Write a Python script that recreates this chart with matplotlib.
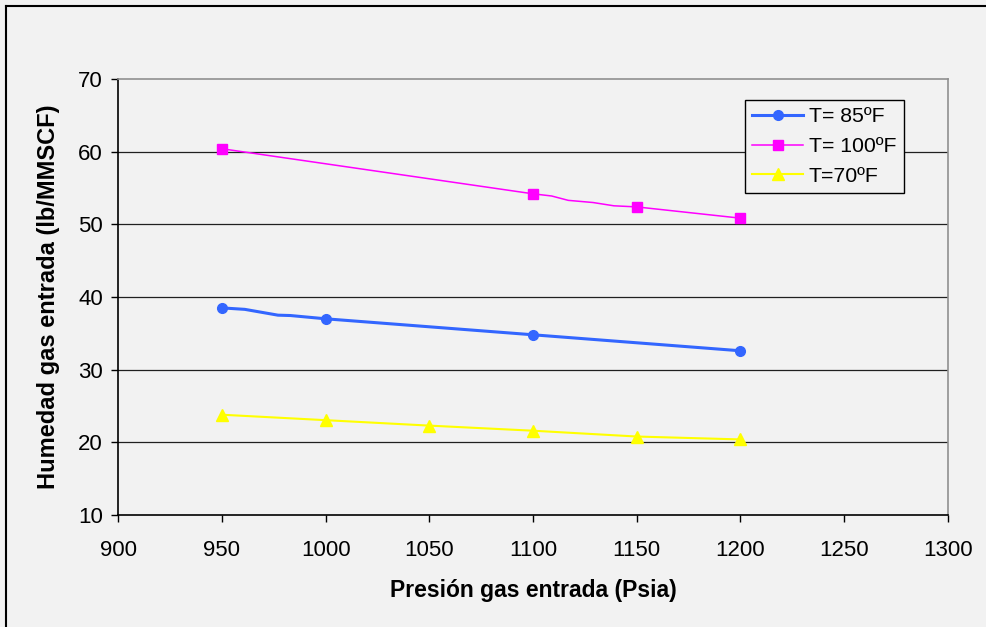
import matplotlib
matplotlib.use("Agg")
import matplotlib.pyplot as plt
from matplotlib.lines import Line2D

plt.rcParams['font.family'] = ['Liberation Sans', 'DejaVu Sans']

# pressure (Psia) where each temperature was sampled
pres_85 = [950, 1000, 1100, 1200]
hum_85 = [38.5, 37.0, 34.8, 32.6]
pres_100 = [950, 1100, 1150, 1200]
hum_100 = [60.4, 54.2, 52.4, 50.85]
pres_70 = [950, 1000, 1050, 1100, 1150, 1200]
hum_70 = [23.8, 23.05, 22.3, 21.6, 20.8, 20.4]

# the drawn curves bend slightly between samples
line_x_85 = [950, 961, 977, 983, 1000, 1100, 1200]
line_y_85 = [38.5, 38.3, 37.5, 37.45, 37.0, 34.8, 32.6]
line_x_100 = [950, 1100, 1109, 1117, 1129, 1139, 1150, 1200]
line_y_100 = [60.4, 54.2, 53.9, 53.3, 53.0, 52.55, 52.4, 50.85]

x_ticks = [900, 950, 1000, 1050, 1100, 1150, 1200, 1250, 1300]
y_ticks = [10, 20, 30, 40, 50, 60, 70]

bg = '#f2f2f2'
W, H = 986, 627
fig = plt.figure(figsize=(W / 100, H / 100), dpi=100, facecolor=bg)
ax = fig.add_axes([118.3 / W, 1 - 515 / H, (947.7 - 118.3) / W, (515 - 79) / H])
ax.set_facecolor(bg)

ax.set_xlim(900, 1300)
ax.set_ylim(10, 70)
ax.set_xticks(x_ticks)
ax.set_yticks(y_ticks)

for v in y_ticks[1:-1]:
    ax.axhline(v, color='#202020', lw=0.9, zorder=1)

blue, magenta, yellow = '#3366ff', '#ff00ff', '#ffff00'

ax.plot(line_x_85, line_y_85, color=blue, lw=2.2, zorder=3)
ax.plot(pres_85, hum_85, 'o', color=blue, ms=7, zorder=4)
ax.plot(line_x_100, line_y_100, color=magenta, lw=1.1, zorder=3)
ax.plot(pres_100, hum_100, 's', color=magenta, ms=7, zorder=4)
ax.plot(pres_70, hum_70, color=yellow, lw=1.5, zorder=3)
ax.plot(pres_70, hum_70, '^', color=yellow, ms=8.5, zorder=4)

handles = [
    Line2D([], [], color=blue, lw=2.2, marker='o', ms=7),
    Line2D([], [], color=magenta, lw=1.1, marker='s', ms=7),
    Line2D([], [], color=yellow, lw=1.5, marker='^', ms=8.5),
]
labels = ['T= 85ºF', 'T= 100ºF', 'T=70ºF']
leg = ax.legend(handles, labels, loc='upper left', bbox_to_anchor=(0.7556, 0.952),
                fontsize=15.3, frameon=True, fancybox=False, facecolor=bg,
                edgecolor='black', framealpha=1, borderpad=0.35, labelspacing=0.5,
                handlelength=2.4, handletextpad=0.25, borderaxespad=0)
leg.get_frame().set_linewidth(1.0)
leg.set_zorder(6)

for side in ['top', 'right']:
    ax.spines[side].set_color('#909090')
    ax.spines[side].set_linewidth(1.2)
for side in ['left', 'bottom']:
    ax.spines[side].set_color('black')
    ax.spines[side].set_linewidth(1.2)

ax.tick_params(axis='x', direction='out', length=5, width=1, labelsize=16, pad=13)
ax.tick_params(axis='y', direction='out', length=5, width=1, labelsize=16, pad=6)

ax.set_xlabel('Presión gas entrada (Psia)', fontsize=16.5, fontweight='bold', labelpad=13)
ax.set_ylabel('Humedad gas entrada (lb/MMSCF)', fontsize=17, fontweight='bold', labelpad=13)

# chart frame
fig.add_artist(Line2D([6 / W, 1], [1 - 6 / H, 1 - 6 / H], color='black', lw=1.5,
                      transform=fig.transFigure))
fig.add_artist(Line2D([6 / W, 6 / W], [0, 1 - 6 / H], color='black', lw=1.5,
                      transform=fig.transFigure))

fig.savefig('out.png', dpi=100, facecolor=bg)
